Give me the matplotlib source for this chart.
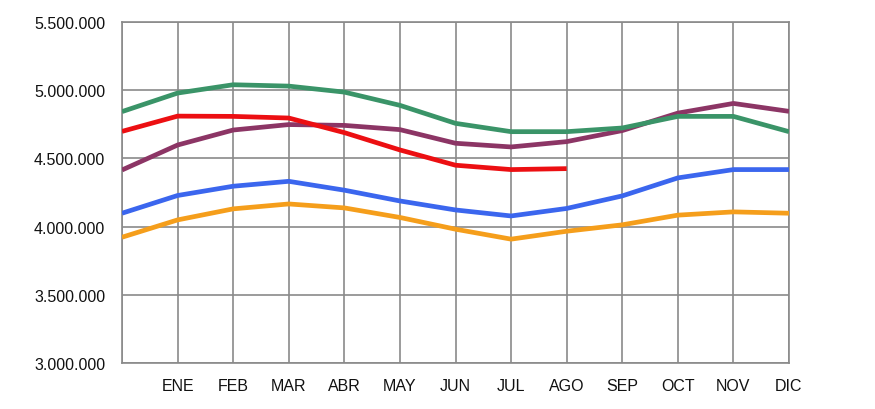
import matplotlib
matplotlib.use("Agg")
import matplotlib.pyplot as plt
from matplotlib import font_manager
from matplotlib.ticker import FuncFormatter

names = {f.name for f in font_manager.fontManager.ttflist}
narrow = 'Liberation Sans Narrow' in names
plt.rcParams['font.family'] = (['Liberation Sans Narrow'] if narrow else []) + ['Liberation Sans', 'DejaVu Sans']
fsize = 13 if narrow else 11.5

months = ['', 'ENE', 'FEB', 'MAR', 'ABR', 'MAY', 'JUN', 'JUL', 'AGO', 'SEP', 'OCT', 'NOV', 'DIC']

green = [4843000, 4979000, 5040000, 5030000, 4986000, 4889000, 4757000,
         4696000, 4696000, 4723000, 4808000, 4808000, 4696000]
red = [4698000, 4810000, 4808000, 4796000, 4689000, 4562000, 4450000,
       4418000, 4425000]
purple = [4415000, 4598000, 4708000, 4748000, 4742000, 4711000, 4611000,
          4584000, 4623000, 4704000, 4832000, 4903000, 4845000]
blue = [4098000, 4228000, 4296000, 4332000, 4267000, 4188000, 4122000,
        4078000, 4133000, 4225000, 4357000, 4418000, 4418000]
orange = [3922000, 4049000, 4130000, 4166000, 4137000, 4067000, 3981000,
          3908000, 3966000, 4013000, 4084000, 4108000, 4098000]

series = [
    (orange, '#f59e1b'),
    (blue, '#3b66ee'),
    (purple, '#8c3565'),
    (red, '#ec0f12'),
    (green, '#3a9468'),
]

fig = plt.figure(figsize=(8.75, 4.10), dpi=100)
ax = fig.add_axes([122 / 875, 46 / 410, 667 / 875, 341 / 410])

for vals, col in series:
    ax.plot(range(len(vals)), vals, color=col, lw=3.4, solid_capstyle='butt',
            solid_joinstyle='round', zorder=3)

ax.set_xlim(0, 12)
ax.set_ylim(3000000, 5500000)
ax.set_xticks(range(13))
ax.set_xticklabels(months)
ax.set_yticks(range(3000000, 5500001, 500000))
ax.yaxis.set_major_formatter(FuncFormatter(lambda v, p: f"{int(v):,}".replace(',', '.')))

ax.grid(True, color='#8a8a8a', lw=1.2, zorder=1)
for s in ax.spines.values():
    s.set_color('#8a8a8a')
    s.set_linewidth(1.2)
ax.tick_params(length=0, labelsize=fsize, colors='#111111')
ax.tick_params(axis='y', pad=12)
ax.tick_params(axis='x', pad=11)

fig.savefig('out.png', dpi=100)
